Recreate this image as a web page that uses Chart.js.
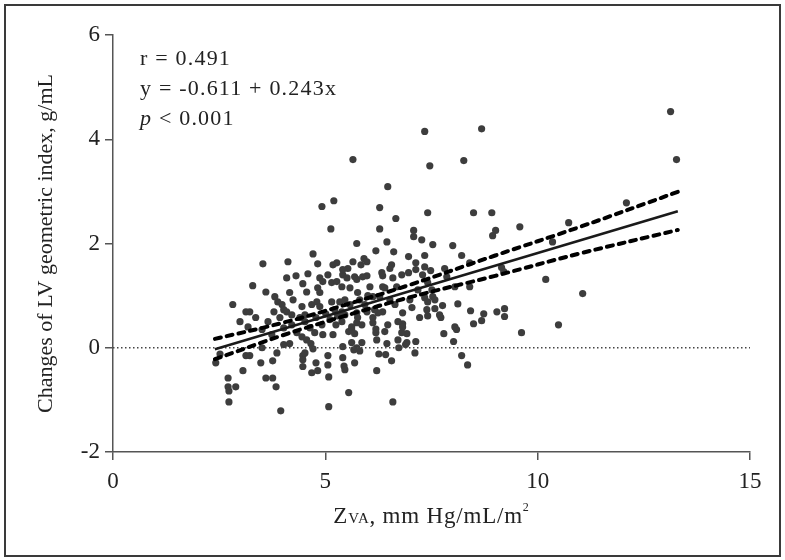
<!DOCTYPE html>
<html>
<head>
<meta charset="utf-8">
<script src="https://cdn.jsdelivr.net/npm/chart.js@4.4.0/dist/chart.umd.min.js"></script>
<style>
  html, body { margin: 0; padding: 0; background: #fff; }
  #wrap { position: relative; width: 785px; height: 560px; }
  #frame {
    position: absolute; left: 4px; top: 4px; width: 777px; height: 553px;
    box-sizing: border-box; border: 2px solid #3a3a3a; pointer-events: none;
  }
</style>
</head>
<body>
<div id="wrap">
  <canvas id="zvaChart" width="785" height="560"></canvas>
  <div id="frame"></div>
</div>
<script>
// Zva (mm Hg/mL/m2) for each patient
const zva = [
  13.13, 13.27, 7.34, 8.68, 7.46, 8.26, 5.65, 6.47, 6.28, 6.66,
  7.41, 8.49, 8.92, 6.28, 7.08, 7.08, 7.27, 6.45, 7.53, 9.01,
  8.94, 9.58, 10.73, 10.35, 8.00, 6.61, 6.96, 7.34, 8.21, 7.13,
  7.34, 6.56, 6.52, 6.35, 6.59, 6.80, 7.13, 7.29, 7.48, 7.81,
  8.40, 9.15, 9.20, 10.19, 8.40, 6.40, 7.53, 7.34, 12.09, 11.06,
  10.49, 9.62, 9.22, 9.22, 9.04, 8.73, 8.68, 8.49, 8.42, 8.12,
  8.09, 7.79, 8.02, 8.21, 8.35, 7.76, 7.72, 7.58, 7.41, 7.39,
  7.22, 7.41, 7.58, 7.11, 7.13, 6.92, 6.92, 6.82, 6.82, 6.80,
  6.71, 6.89, 6.73, 5.55, 5.69, 5.62, 5.41, 5.62, 5.74, 5.81,
  5.67, 5.86, 5.41, 5.69, 5.44, 5.46, 6.19, 6.40, 6.21, 6.45,
  6.26, 6.42, 6.56, 6.21, 5.55, 6.59, 2.42, 2.52, 2.71, 2.71,
  2.73, 2.89, 2.73, 3.06, 3.13, 3.22, 3.48, 3.51, 3.60, 3.76,
  3.84, 3.76, 3.86, 3.95, 4.02, 4.16, 4.47, 4.47, 4.52, 4.47,
  4.45, 4.56, 4.66, 4.75, 4.71, 4.78, 4.68, 4.82, 5.08, 5.06,
  5.06, 5.08, 4.94, 5.18, 4.71, 3.53, 4.12, 4.82, 5.18, 5.27,
  4.09, 4.31, 4.59, 4.47, 3.29, 3.60, 4.56, 4.87, 4.94, 5.06,
  5.15, 5.27, 5.39, 4.82, 4.87, 2.82, 3.13, 3.22, 3.81, 3.88,
  3.98, 4.02, 4.16, 4.24, 4.09, 4.21, 4.45, 4.52, 4.68, 4.80,
  4.87, 5.15, 5.22, 5.34, 3.18, 5.20, 4.92, 5.13, 5.74, 6.19,
  5.65, 5.91, 5.98, 5.84, 5.53, 5.41, 5.41, 5.51, 5.69, 5.74,
  5.88, 5.98, 6.33, 6.05, 6.35, 6.68, 6.96, 7.86, 5.58, 5.76,
  6.12, 6.28, 7.41, 7.51, 8.05, 7.69, 6.71, 6.82, 6.35, 6.24,
  6.12, 5.98, 6.16, 6.47, 8.05, 5.39, 5.46, 5.39, 5.74, 5.76,
  5.74, 5.86, 6.12, 6.19, 5.62, 2.99, 3.36, 3.51, 3.65, 3.74,
  3.93, 4.02, 4.21, 4.33, 4.52, 4.64, 4.78, 4.92, 5.01, 5.11,
  5.25, 5.29, 5.46, 5.58, 5.81, 5.93, 6.00, 6.52, 6.64, 6.99,
  7.04, 7.18, 4.40, 3.79
];

// changes of LV geometric index (g/mL), same order as zva
const lvChange = [
  4.53, 3.61, 4.15, 4.20, 3.49, 3.59, 3.61, 3.09, 2.69, 2.48,
  2.59, 2.59, 2.59, 2.28, 2.25, 2.13, 2.07, 2.03, 1.98, 2.25,
  2.15, 2.32, 2.40, 2.03, 1.96, 1.84, 1.75, 1.77, 1.77, 1.63,
  1.55, 1.59, 1.52, 1.38, 1.34, 1.40, 1.50, 1.40, 1.48, 1.52,
  1.63, 1.54, 1.46, 1.31, 1.17, 1.15, 0.98, 0.96, 2.78, 1.04,
  0.44, 0.29, 0.75, 0.60, 0.69, 0.65, 0.52, 0.46, 0.71, 0.84,
  0.35, 0.27, 0.12, -0.15, -0.33, 0.81, 0.58, 0.75, 0.61, 0.73,
  0.58, 0.88, 0.92, -0.10, 0.12, 0.10, 0.27, 0.67, 0.46, 0.29,
  0.15, 0.06, 0.00, 0.31, 0.27, 0.35, 0.02, 0.10, 0.00, -0.06,
  -0.04, 0.10, -0.19, -0.29, -0.35, -0.42, 0.29, 0.31, 0.15, 0.08,
  -0.12, -0.13, -0.25, -0.44, -0.86, -1.04, -0.29, -0.12, -0.58, -0.75,
  -0.83, -0.75, -1.04, -0.44, -0.15, -0.15, -0.29, 0.00, -0.58, -0.58,
  -0.75, -0.25, -0.10, -1.21, 0.06, 0.08, -0.15, -0.23, -0.10, -0.36,
  0.21, 0.15, 0.08, 0.29, -0.02, -0.29, -0.48, -0.44, -1.13, -0.15,
  -0.33, -0.56, 0.25, 0.25, 1.80, 1.61, 1.65, 1.61, 1.59, 1.63,
  1.34, 1.38, 1.42, 1.23, 1.19, 1.07, 1.07, 1.34, 1.27, 1.40,
  1.25, 1.27, 1.17, 1.15, 1.06, 0.83, 0.69, 0.69, 0.98, 0.88,
  0.83, 0.73, 1.06, 0.92, 0.69, 0.63, 0.79, 0.63, 0.83, 0.88,
  0.79, 0.88, 0.73, 0.88, 0.40, 2.82, 2.71, 2.28, 2.00, 1.86,
  1.65, 1.71, 1.65, 1.59, 1.52, 1.40, 1.50, 1.34, 1.36, 1.31,
  1.36, 1.38, 1.44, 1.17, 1.17, 1.17, 1.44, 1.36, 1.15, 1.06,
  0.98, 0.98, 1.25, 1.11, 1.17, 0.63, 0.50, 0.40, 0.69, 0.67,
  0.58, 0.69, 0.73, 0.44, 0.40, 0.69, 0.63, 0.50, 0.67, 0.58,
  0.48, 0.44, 0.48, 0.36, 0.40, 0.50, 0.58, 0.35, 0.50, 0.25,
  0.58, 0.38, 0.44, 0.29, 0.50, 0.38, 0.58, 0.44, 0.65, 0.54,
  0.44, 0.61, 0.92, 0.83, 0.92, 0.83, 1.00, 0.92, 0.83, 0.92,
  0.77, 1.11, 0.58, 0.69
];

// regression line end points
const fitX = [2.4, 13.3];
const fitY = [-0.03, 2.62];

// 95% confidence band
const bandX = [2.4, 4, 5.5, 7, 9, 11, 13.3];
const bandUpper = [0.17, 0.48, 0.83, 1.21, 1.77, 2.32, 2.99];
const bandLower = [-0.22, 0.24, 0.62, 0.97, 1.38, 1.81, 2.26];

// reference line at zero
const zeroX = [0, 15];
const zeroY = [0, 0];

const xTicks = [0, 5, 10, 15];
const yTicks = [-2, 0, 2, 4, 6];

const statLines = ['r = 0.491', 'y = -0.611 + 0.243x', '< 0.001'];

const SERIF = '"Liberation Serif", "DejaVu Serif", serif';
const INK = '#222';

function pairs(xs, ys) {
  return xs.map((x, i) => ({ x: x, y: ys[i] }));
}

// stats text in the upper left and the x axis title with sub/superscripts
const textPlugin = {
  id: 'textPlugin',
  afterDraw(chart) {
    const ctx = chart.ctx;
    ctx.save();
    ctx.fillStyle = INK;
    ctx.textBaseline = 'alphabetic';
    ctx.textAlign = 'left';
    ctx.letterSpacing = '1.2px';

    const left = 140;
    ctx.font = '22px ' + SERIF;
    ctx.fillText(statLines[0], left, 65);
    ctx.fillText(statLines[1], left, 95);
    ctx.font = 'italic 22px ' + SERIF;
    ctx.fillText('p', left, 125);
    const pw = ctx.measureText('p ').width;
    ctx.font = '22px ' + SERIF;
    ctx.fillText(statLines[2], left + pw, 125);

    // x title: Z(VA), mm Hg/mL/m^2
    ctx.letterSpacing = '0.8px';
    const parts = [
      { t: 'Z', f: '23px ' + SERIF, dy: 0 },
      { t: 'VA', f: '15px ' + SERIF, dy: 0 },
      { t: ', mm Hg/mL/m', f: '23px ' + SERIF, dy: 0 },
      { t: '2', f: '12px ' + SERIF, dy: -12 }
    ];
    let total = 0;
    parts.forEach(p => { ctx.font = p.f; p.w = ctx.measureText(p.t).width; total += p.w; });
    const area = chart.chartArea;
    let x = (area.left + area.right) / 2 - total / 2;
    const base = 523;
    parts.forEach(p => {
      ctx.font = p.f;
      ctx.fillText(p.t, x, base + p.dy);
      x += p.w;
    });
    ctx.restore();
  }
};

const ctx = document.getElementById('zvaChart').getContext('2d');
const zvaChart = new Chart(ctx, {
  type: 'scatter',
  data: {
    datasets: [
      {
        type: 'line',
        data: pairs(bandX, bandUpper),
        borderColor: '#000',
        borderWidth: 4,
        borderDash: [6, 6],
        borderCapStyle: 'round',
        pointRadius: 0,
        tension: 0.4,
        fill: false,
        order: 1
      },
      {
        type: 'line',
        data: pairs(bandX, bandLower),
        borderColor: '#000',
        borderWidth: 4,
        borderDash: [6, 6],
        borderCapStyle: 'round',
        pointRadius: 0,
        tension: 0.4,
        fill: false,
        order: 1
      },
      {
        type: 'line',
        data: pairs(fitX, fitY),
        borderColor: '#1a1a1a',
        borderWidth: 2.5,
        pointRadius: 0,
        fill: false,
        order: 2
      },
      {
        type: 'line',
        data: pairs(zeroX, zeroY),
        borderColor: '#444',
        borderWidth: 1.5,
        borderDash: [1.5, 2.5],
        pointRadius: 0,
        fill: false,
        order: 4
      },
      {
        type: 'scatter',
        data: pairs(zva, lvChange),
        backgroundColor: '#3d3d3d',
        borderWidth: 0,
        pointRadius: 3.6,
        order: 5
      }
    ]
  },
  options: {
    responsive: false,
    animation: false,
    events: [],
    layout: {
      padding: { left: 0, right: 35, top: 35, bottom: 0 }
    },
    plugins: {
      legend: { display: false },
      tooltip: { enabled: false }
    },
    scales: {
      x: {
        type: 'linear',
        min: 0,
        max: 15,
        afterBuildTicks: scale => { scale.ticks = xTicks.map(v => ({ value: v })); },
        afterFit: scale => { scale.height = 108; },
        ticks: {
          color: INK,
          padding: 8,
          font: { family: SERIF, size: 23 }
        },
        grid: {
          drawOnChartArea: false,
          drawTicks: true,
          tickLength: 8,
          color: '#555',
          lineWidth: 1.5
        },
        border: { display: true, color: '#555', width: 1.5 }
      },
      y: {
        type: 'linear',
        min: -2,
        max: 6,
        afterBuildTicks: scale => { scale.ticks = yTicks.map(v => ({ value: v })); },
        afterFit: scale => { scale.width = 113; },
        ticks: {
          color: INK,
          padding: 5,
          font: { family: SERIF, size: 23 }
        },
        grid: {
          drawOnChartArea: false,
          drawTicks: true,
          tickLength: 8,
          color: '#555',
          lineWidth: 1.5
        },
        border: { display: true, color: '#555', width: 1.5 },
        title: {
          display: true,
          text: 'Changes of LV geometric index, g/mL',
          color: INK,
          padding: { top: 33, bottom: 0 },
          font: { family: SERIF, size: 22 }
        }
      }
    }
  },
  plugins: [textPlugin]
});
</script>
</body>
</html>
